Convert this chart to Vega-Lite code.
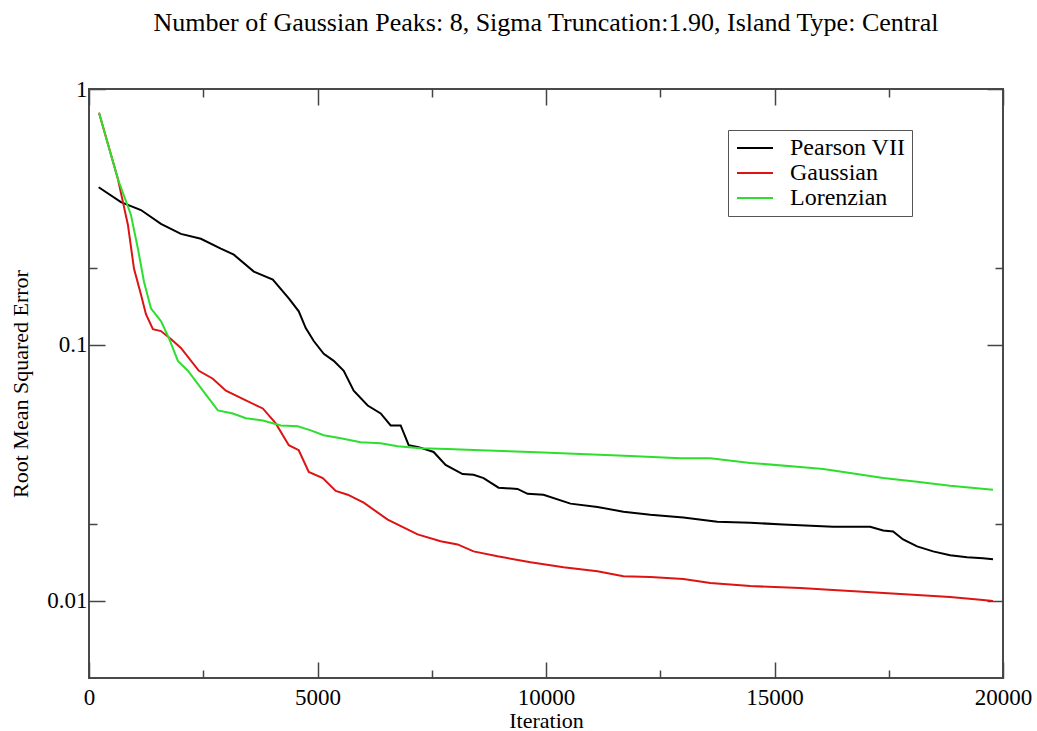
{
  "$schema": "https://vega.github.io/schema/vega-lite/v6.json",
  "width": 914,
  "height": 589,
  "autosize": {"type": "none"},
  "padding": {"left": 89, "top": 89, "right": 34, "bottom": 53},
  "background": "white",
  "title": {"text": "Number of Gaussian Peaks: 8, Sigma Truncation:1.90, Island Type: Central", "font": "Liberation Serif", "fontSize": 26, "fontWeight": "normal", "color": "black", "anchor": "middle", "baseline": "alphabetic", "offset": 21},
  "config": {
    "view": {"stroke": "#4a4a4a", "strokeWidth": 2},
    "axis": {"grid": false, "domain": false, "labelFont": "Liberation Serif", "titleFont": "Liberation Serif", "labelFontSize": 23, "titleFontSize": 22, "titleFontWeight": "normal", "labelColor": "black", "titleColor": "black", "tickColor": "#444444", "tickWidth": 1.5, "labelFlush": false}
  },
  "data": {"values": [
    {"series": "Pearson VII", "iteration": 212, "rmse": 0.4133},
    {"series": "Pearson VII", "iteration": 699, "rmse": 0.3614},
    {"series": "Pearson VII", "iteration": 1137, "rmse": 0.3366},
    {"series": "Pearson VII", "iteration": 1574, "rmse": 0.2971},
    {"series": "Pearson VII", "iteration": 2011, "rmse": 0.2717},
    {"series": "Pearson VII", "iteration": 2448, "rmse": 0.2599},
    {"series": "Pearson VII", "iteration": 2885, "rmse": 0.2377},
    {"series": "Pearson VII", "iteration": 3169, "rmse": 0.2253},
    {"series": "Pearson VII", "iteration": 3607, "rmse": 0.1935},
    {"series": "Pearson VII", "iteration": 4022, "rmse": 0.1802},
    {"series": "Pearson VII", "iteration": 4372, "rmse": 0.1521},
    {"series": "Pearson VII", "iteration": 4590, "rmse": 0.1354},
    {"series": "Pearson VII", "iteration": 4743, "rmse": 0.1164},
    {"series": "Pearson VII", "iteration": 4918, "rmse": 0.1036},
    {"series": "Pearson VII", "iteration": 5137, "rmse": 0.0923},
    {"series": "Pearson VII", "iteration": 5355, "rmse": 0.0867},
    {"series": "Pearson VII", "iteration": 5574, "rmse": 0.0793},
    {"series": "Pearson VII", "iteration": 5792, "rmse": 0.0663},
    {"series": "Pearson VII", "iteration": 6098, "rmse": 0.058},
    {"series": "Pearson VII", "iteration": 6383, "rmse": 0.054},
    {"series": "Pearson VII", "iteration": 6601, "rmse": 0.0485},
    {"series": "Pearson VII", "iteration": 6820, "rmse": 0.0485},
    {"series": "Pearson VII", "iteration": 6995, "rmse": 0.0406},
    {"series": "Pearson VII", "iteration": 7213, "rmse": 0.0399},
    {"series": "Pearson VII", "iteration": 7541, "rmse": 0.0382},
    {"series": "Pearson VII", "iteration": 7803, "rmse": 0.034},
    {"series": "Pearson VII", "iteration": 8175, "rmse": 0.0313},
    {"series": "Pearson VII", "iteration": 8415, "rmse": 0.0311},
    {"series": "Pearson VII", "iteration": 8634, "rmse": 0.0302},
    {"series": "Pearson VII", "iteration": 8962, "rmse": 0.0277},
    {"series": "Pearson VII", "iteration": 9377, "rmse": 0.0274},
    {"series": "Pearson VII", "iteration": 9596, "rmse": 0.0262},
    {"series": "Pearson VII", "iteration": 9945, "rmse": 0.026},
    {"series": "Pearson VII", "iteration": 10536, "rmse": 0.024},
    {"series": "Pearson VII", "iteration": 11126, "rmse": 0.0233},
    {"series": "Pearson VII", "iteration": 11694, "rmse": 0.0223},
    {"series": "Pearson VII", "iteration": 12284, "rmse": 0.0217},
    {"series": "Pearson VII", "iteration": 13006, "rmse": 0.0212},
    {"series": "Pearson VII", "iteration": 13749, "rmse": 0.0204},
    {"series": "Pearson VII", "iteration": 14470, "rmse": 0.0202},
    {"series": "Pearson VII", "iteration": 15191, "rmse": 0.0199},
    {"series": "Pearson VII", "iteration": 16284, "rmse": 0.0195},
    {"series": "Pearson VII", "iteration": 17093, "rmse": 0.0195},
    {"series": "Pearson VII", "iteration": 17377, "rmse": 0.01884},
    {"series": "Pearson VII", "iteration": 17596, "rmse": 0.01867},
    {"series": "Pearson VII", "iteration": 17814, "rmse": 0.01739},
    {"series": "Pearson VII", "iteration": 18120, "rmse": 0.01634},
    {"series": "Pearson VII", "iteration": 18470, "rmse": 0.01562},
    {"series": "Pearson VII", "iteration": 18842, "rmse": 0.01508},
    {"series": "Pearson VII", "iteration": 19213, "rmse": 0.01481},
    {"series": "Pearson VII", "iteration": 19563, "rmse": 0.01468},
    {"series": "Pearson VII", "iteration": 19781, "rmse": 0.01455},
    {"series": "Gaussian", "iteration": 219, "rmse": 0.807},
    {"series": "Gaussian", "iteration": 634, "rmse": 0.444},
    {"series": "Gaussian", "iteration": 743, "rmse": 0.3614},
    {"series": "Gaussian", "iteration": 852, "rmse": 0.2944},
    {"series": "Gaussian", "iteration": 984, "rmse": 0.1988},
    {"series": "Gaussian", "iteration": 1137, "rmse": 0.1576},
    {"series": "Gaussian", "iteration": 1246, "rmse": 0.1319},
    {"series": "Gaussian", "iteration": 1399, "rmse": 0.1153},
    {"series": "Gaussian", "iteration": 1574, "rmse": 0.1133},
    {"series": "Gaussian", "iteration": 1792, "rmse": 0.1055},
    {"series": "Gaussian", "iteration": 2011, "rmse": 0.0974},
    {"series": "Gaussian", "iteration": 2404, "rmse": 0.0793},
    {"series": "Gaussian", "iteration": 2710, "rmse": 0.0738},
    {"series": "Gaussian", "iteration": 2995, "rmse": 0.0663},
    {"series": "Gaussian", "iteration": 3432, "rmse": 0.0607},
    {"series": "Gaussian", "iteration": 3803, "rmse": 0.0565},
    {"series": "Gaussian", "iteration": 4087, "rmse": 0.0494},
    {"series": "Gaussian", "iteration": 4372, "rmse": 0.0406},
    {"series": "Gaussian", "iteration": 4590, "rmse": 0.0388},
    {"series": "Gaussian", "iteration": 4809, "rmse": 0.0319},
    {"series": "Gaussian", "iteration": 5115, "rmse": 0.0302},
    {"series": "Gaussian", "iteration": 5399, "rmse": 0.0269},
    {"series": "Gaussian", "iteration": 5661, "rmse": 0.026},
    {"series": "Gaussian", "iteration": 6011, "rmse": 0.0242},
    {"series": "Gaussian", "iteration": 6536, "rmse": 0.0208},
    {"series": "Gaussian", "iteration": 7191, "rmse": 0.0182},
    {"series": "Gaussian", "iteration": 7694, "rmse": 0.0171},
    {"series": "Gaussian", "iteration": 8066, "rmse": 0.01663},
    {"series": "Gaussian", "iteration": 8415, "rmse": 0.01562},
    {"series": "Gaussian", "iteration": 8940, "rmse": 0.01494},
    {"series": "Gaussian", "iteration": 9661, "rmse": 0.01416},
    {"series": "Gaussian", "iteration": 10383, "rmse": 0.01354},
    {"series": "Gaussian", "iteration": 11126, "rmse": 0.01307},
    {"series": "Gaussian", "iteration": 11694, "rmse": 0.0125},
    {"series": "Gaussian", "iteration": 12284, "rmse": 0.01239},
    {"series": "Gaussian", "iteration": 13006, "rmse": 0.01217},
    {"series": "Gaussian", "iteration": 13596, "rmse": 0.01174},
    {"series": "Gaussian", "iteration": 14470, "rmse": 0.01143},
    {"series": "Gaussian", "iteration": 15563, "rmse": 0.01123},
    {"series": "Gaussian", "iteration": 16284, "rmse": 0.01103},
    {"series": "Gaussian", "iteration": 17027, "rmse": 0.01084},
    {"series": "Gaussian", "iteration": 18120, "rmse": 0.01055},
    {"series": "Gaussian", "iteration": 18842, "rmse": 0.01036},
    {"series": "Gaussian", "iteration": 19563, "rmse": 0.01009},
    {"series": "Gaussian", "iteration": 19781, "rmse": 0.01},
    {"series": "Lorenzian", "iteration": 219, "rmse": 0.807},
    {"series": "Lorenzian", "iteration": 634, "rmse": 0.444},
    {"series": "Lorenzian", "iteration": 918, "rmse": 0.3219},
    {"series": "Lorenzian", "iteration": 1071, "rmse": 0.2377},
    {"series": "Lorenzian", "iteration": 1202, "rmse": 0.177},
    {"series": "Lorenzian", "iteration": 1355, "rmse": 0.1391},
    {"series": "Lorenzian", "iteration": 1574, "rmse": 0.1239},
    {"series": "Lorenzian", "iteration": 1749, "rmse": 0.1064},
    {"series": "Lorenzian", "iteration": 1945, "rmse": 0.0867},
    {"series": "Lorenzian", "iteration": 2164, "rmse": 0.0793},
    {"series": "Lorenzian", "iteration": 2492, "rmse": 0.0663},
    {"series": "Lorenzian", "iteration": 2820, "rmse": 0.0555},
    {"series": "Lorenzian", "iteration": 3148, "rmse": 0.054},
    {"series": "Lorenzian", "iteration": 3432, "rmse": 0.0517},
    {"series": "Lorenzian", "iteration": 3803, "rmse": 0.0507},
    {"series": "Lorenzian", "iteration": 4197, "rmse": 0.0485},
    {"series": "Lorenzian", "iteration": 4568, "rmse": 0.0481},
    {"series": "Lorenzian", "iteration": 4852, "rmse": 0.0464},
    {"series": "Lorenzian", "iteration": 5137, "rmse": 0.0444},
    {"series": "Lorenzian", "iteration": 5508, "rmse": 0.0432},
    {"series": "Lorenzian", "iteration": 5945, "rmse": 0.0417},
    {"series": "Lorenzian", "iteration": 6383, "rmse": 0.0413},
    {"series": "Lorenzian", "iteration": 6754, "rmse": 0.0402},
    {"series": "Lorenzian", "iteration": 7257, "rmse": 0.0395},
    {"series": "Lorenzian", "iteration": 7847, "rmse": 0.0392},
    {"series": "Lorenzian", "iteration": 8568, "rmse": 0.0388},
    {"series": "Lorenzian", "iteration": 9661, "rmse": 0.0382},
    {"series": "Lorenzian", "iteration": 10754, "rmse": 0.0375},
    {"series": "Lorenzian", "iteration": 11847, "rmse": 0.0368},
    {"series": "Lorenzian", "iteration": 12940, "rmse": 0.0361},
    {"series": "Lorenzian", "iteration": 13596, "rmse": 0.0361},
    {"series": "Lorenzian", "iteration": 14470, "rmse": 0.0346},
    {"series": "Lorenzian", "iteration": 15563, "rmse": 0.0334},
    {"series": "Lorenzian", "iteration": 16066, "rmse": 0.0328},
    {"series": "Lorenzian", "iteration": 16656, "rmse": 0.0316},
    {"series": "Lorenzian", "iteration": 17377, "rmse": 0.0302},
    {"series": "Lorenzian", "iteration": 18120, "rmse": 0.0292},
    {"series": "Lorenzian", "iteration": 18842, "rmse": 0.0282},
    {"series": "Lorenzian", "iteration": 19781, "rmse": 0.0272}
  ]},
  "layer": [
    {
      "mark": {"type": "line", "strokeWidth": 2, "clip": true},
      "encoding": {
        "x": {"field": "iteration", "type": "quantitative", "scale": {"domain": [0, 20000], "nice": false, "zero": false},
              "axis": {"orient": "bottom", "values": [0, 5000, 10000, 15000, 20000], "format": "d", "tickSize": -16, "labelPadding": 24, "labelFlush": false, "title": "Iteration", "titlePadding": 1}},
        "y": {"field": "rmse", "type": "quantitative", "scale": {"type": "log", "domain": [0.005, 1], "nice": false},
              "axis": {"orient": "left", "values": [0.01, 0.1, 1], "format": "~g", "tickSize": -16, "labelPadding": 18, "labelFlush": false, "title": "Root Mean Squared Error", "titlePadding": 14}},
        "color": {"field": "series", "type": "nominal",
                  "scale": {"domain": ["Pearson VII", "Gaussian", "Lorenzian"], "range": ["#000000", "#dd1414", "#2ede2e"]},
                  "legend": {"orient": "none", "legendX": 639, "legendY": 41, "title": null, "symbolType": "M-2,0H2", "symbolSize": 324, "symbolStrokeWidth": 2, "symbolOffset": 9, "labelFont": "Liberation Serif", "labelFontSize": 24, "labelColor": "black", "labelOffset": 23, "rowPadding": 1, "padding": 6, "strokeColor": "#555555", "fillColor": "white"}}
      }
    },
    {
      "mark": {"type": "point", "opacity": 0},
      "encoding": {
        "x": {"field": "iteration", "type": "quantitative", "scale": {"domain": [0, 20000], "nice": false, "zero": false},
              "axis": {"orient": "bottom", "values": [2500, 7500, 12500, 17500], "labels": false, "tickSize": -8, "title": null}},
        "y": {"field": "rmse", "type": "quantitative", "scale": {"type": "log", "domain": [0.005, 1], "nice": false},
              "axis": {"orient": "left", "values": [0.02, 0.2], "labels": false, "tickSize": -8, "title": null}}
      }
    },
    {
      "mark": {"type": "point", "opacity": 0},
      "encoding": {
        "x": {"field": "iteration", "type": "quantitative", "scale": {"domain": [0, 20000], "nice": false, "zero": false},
              "axis": {"orient": "top", "values": [0, 5000, 10000, 15000, 20000], "labels": false, "tickSize": -16, "title": null}},
        "y": {"field": "rmse", "type": "quantitative", "scale": {"type": "log", "domain": [0.005, 1], "nice": false},
              "axis": {"orient": "right", "values": [0.01, 0.1, 1], "labels": false, "tickSize": -16, "title": null}}
      }
    },
    {
      "mark": {"type": "point", "opacity": 0},
      "encoding": {
        "x": {"field": "iteration", "type": "quantitative", "scale": {"domain": [0, 20000], "nice": false, "zero": false},
              "axis": {"orient": "top", "values": [2500, 7500, 12500, 17500], "labels": false, "tickSize": -8, "title": null}},
        "y": {"field": "rmse", "type": "quantitative", "scale": {"type": "log", "domain": [0.005, 1], "nice": false},
              "axis": {"orient": "right", "values": [0.02, 0.2], "labels": false, "tickSize": -8, "title": null}}
      }
    }
  ],
  "resolve": {"axis": {"x": "independent", "y": "independent"}}
}
